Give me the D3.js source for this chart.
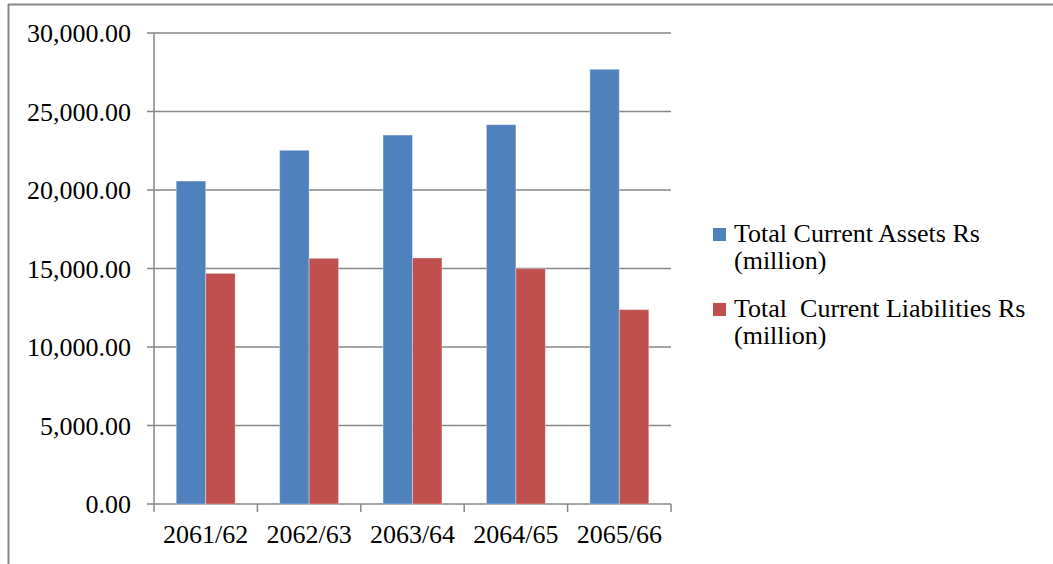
<!DOCTYPE html>
<html>
<head>
<meta charset="utf-8">
<script src="https://cdn.jsdelivr.net/npm/d3@7"></script>
<style>
  body { margin: 0; background: #fff; }
  text { font-family: "Liberation Serif", "Times New Roman", serif; fill: #000; }
</style>
</head>
<body>
<div id="chart"></div>
<script>
var years = ["2061/62", "2062/63", "2063/64", "2064/65", "2065/66"];
var assets = [20570, 22530, 23500, 24160, 27690];
var liabilities = [14690, 15650, 15670, 14990, 12380];
var seriesNames = ["Total Current Assets Rs (million)", "Total  Current Liabilities Rs (million)"];
var legendLines = [["Total Current Assets Rs", "(million)"], ["Total\u00a0 Current Liabilities Rs", "(million)"]];
var colors = ["#4F81BD", "#C0504D"];
var yTicks = [0, 5000, 10000, 15000, 20000, 25000, 30000];

var W = 1053, H = 564;
var margin = {top: 33, left: 154, right: 382, bottom: 60};
var fs = "26px";

var svg = d3.select("#chart").append("svg").attr("width", W).attr("height", H);

// outer frame (only top and left are in view)
svg.append("line").attr("x1", 8).attr("x2", W).attr("y1", 4.5).attr("y2", 4.5).attr("stroke", "#888").attr("stroke-width", 2);
svg.append("line").attr("x1", 8.5).attr("x2", 8.5).attr("y1", 4).attr("y2", H).attr("stroke", "#888").attr("stroke-width", 2);

var x0 = d3.scaleBand().domain(years).range([margin.left, W - margin.right]).paddingInner(0.43).paddingOuter(0.215);
var x1 = d3.scaleBand().domain([0, 1]).range([0, x0.bandwidth()]);
var y = d3.scaleLinear().domain([0, 30000]).range([H - margin.bottom, margin.top]);

// gridlines
svg.append("g").selectAll("line").data(yTicks).enter().append("line")
  .attr("x1", margin.left - 7).attr("x2", W - margin.right)
  .attr("y1", function(d) { return y(d); }).attr("y2", function(d) { return y(d); })
  .attr("stroke", "#868686").attr("stroke-width", 1.5);

// y axis labels
var fmt = d3.format(",.2f");
svg.append("g").selectAll("text").data(yTicks).enter().append("text")
  .attr("x", margin.left - 23).attr("y", function(d) { return y(d); })
  .attr("dy", "0.35em").attr("text-anchor", "end").style("font-size", fs)
  .text(function(d) { return fmt(d); });

// bars
var data = years.map(function(yr, i) { return {year: yr, vals: [assets[i], liabilities[i]]}; });
var groups = svg.append("g").selectAll("g").data(data).enter().append("g")
  .attr("transform", function(d) { return "translate(" + x0(d.year) + ",0)"; });
groups.selectAll("rect").data(function(d) { return d.vals.map(function(v, k) { return {k: k, v: v}; }); })
  .enter().append("rect")
  .attr("x", function(d) { return x1(d.k); })
  .attr("width", x1.bandwidth())
  .attr("y", function(d) { return y(d.v); })
  .attr("height", function(d) { return y(0) - y(d.v); })
  .attr("fill", function(d) { return colors[d.k]; })
  .attr("stroke", "rgba(255,255,255,0.35)").attr("stroke-width", 1);

// axes lines
svg.append("line").attr("x1", margin.left).attr("x2", margin.left).attr("y1", margin.top).attr("y2", y(0) + 8)
  .attr("stroke", "#868686").attr("stroke-width", 1.5);
var step = x0.step();
var bounds = d3.range(years.length + 1).map(function(i) { return margin.left + i * step; });
svg.append("g").selectAll("line").data(bounds.slice(1)).enter().append("line")
  .attr("x1", function(d) { return d; }).attr("x2", function(d) { return d; })
  .attr("y1", y(0)).attr("y2", y(0) + 8).attr("stroke", "#868686").attr("stroke-width", 1.5);

// x labels
svg.append("g").selectAll("text").data(years).enter().append("text")
  .attr("x", function(d) { return x0(d) + x0.bandwidth() / 2; }).attr("y", 543)
  .attr("text-anchor", "middle").style("font-size", fs)
  .text(function(d) { return d; });

// legend
var leg = svg.append("g").selectAll("g").data(legendLines).enter().append("g")
  .attr("transform", function(d, i) { return "translate(713," + (228 + i * 75) + ")"; });
leg.append("rect").attr("width", 13).attr("height", 13).attr("fill", function(d, i) { return colors[i]; });
leg.append("text").attr("x", 21).attr("y", 14).style("font-size", fs).text(function(d) { return d[0]; });
leg.append("text").attr("x", 21).attr("y", 41).style("font-size", fs).text(function(d) { return d[1]; });
</script>
</body>
</html>
